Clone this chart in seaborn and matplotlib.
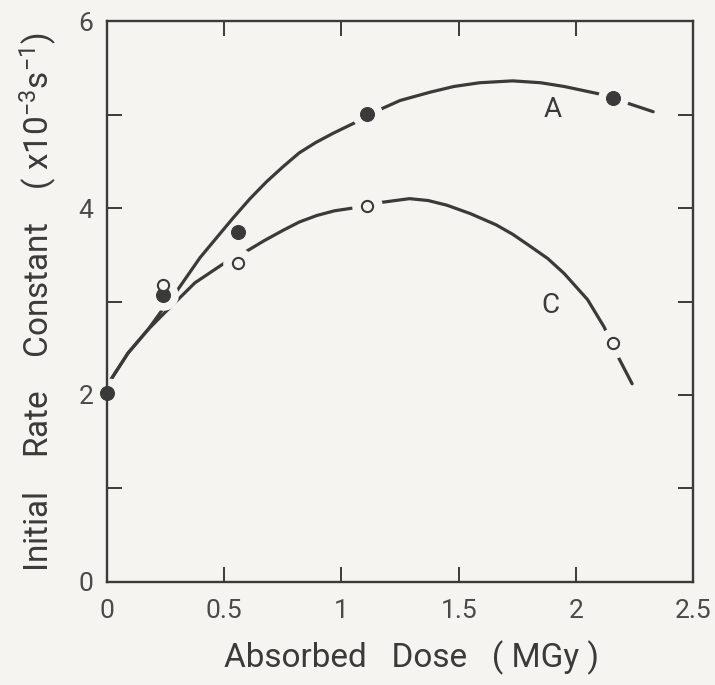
import matplotlib
matplotlib.use("Agg")
import matplotlib.pyplot as plt
import seaborn as sns
import pandas as pd

# Measured initial rate constants (x10^-3 s^-1) versus absorbed dose (MGy)
dose = [0.0, 0.24, 0.56, 1.11, 2.16]
rate_A = [2.02, 3.07, 3.74, 5.01, 5.18]          # filled circles
dose_C = [0.24, 0.56, 1.11, 2.16]
rate_C = [3.18, 3.41, 4.02, 2.56]                # open circles

# Hand-drawn trend curves through each series
curve_A_x = [0.01, 0.09, 0.175, 0.25, 0.30, 0.397, 0.47, 0.54, 0.61, 0.68, 0.75, 0.82,
             0.89, 0.965, 1.08, 1.17, 1.25, 1.38, 1.48, 1.59, 1.73, 1.85, 1.95, 2.10, 2.21, 2.33]
curve_A_y = [2.14, 2.45, 2.70, 2.96, 3.12, 3.47, 3.69, 3.90, 4.10, 4.28, 4.44, 4.59,
             4.70, 4.80, 4.94, 5.06, 5.15, 5.24, 5.30, 5.34, 5.36, 5.34, 5.30, 5.22, 5.13, 5.03]
curve_C_x = [0.01, 0.09, 0.175, 0.25, 0.375, 0.50, 0.59, 0.67, 0.75, 0.82, 0.895, 0.97, 1.05,
             1.17, 1.29, 1.37, 1.45, 1.55, 1.66, 1.73, 1.80, 1.88, 1.95, 2.05, 2.12, 2.18, 2.24]
curve_C_y = [2.14, 2.45, 2.70, 2.89, 3.20, 3.41, 3.53, 3.65, 3.76, 3.85, 3.92, 3.97, 4.00,
             4.06, 4.10, 4.08, 4.03, 3.94, 3.82, 3.72, 3.60, 3.46, 3.30, 3.02, 2.73, 2.41, 2.12]

# which symbols sit on their curve (the curve is broken around those)
gap_A = [True, True, False, True, True]
gap_C = [False, True, True, True]

x_ticks = [0, 0.5, 1, 1.5, 2, 2.5]
x_tick_labels = ["0", "0.5", "1", "1.5", "2", "2.5"]
y_ticks = [0, 1, 2, 3, 4, 5, 6]
y_tick_labels = ["0", "", "2", "", "4", "", "6"]

paper = "#f5f4f0"
ink = "#3a3a3a"

sns.set_theme(style="ticks")
plt.rcParams["font.family"] = ["Roboto", "DejaVu Sans"]
plt.rcParams["mathtext.default"] = "regular"

fig = plt.figure(figsize=(7.15, 6.85), dpi=100, facecolor=paper)
ax = fig.add_axes([0.1497, 0.1504, 0.8196, 0.8189], facecolor=paper)

ca = pd.DataFrame({"x": curve_A_x, "y": curve_A_y})
cc = pd.DataFrame({"x": curve_C_x, "y": curve_C_y})
sns.lineplot(data=ca, x="x", y="y", sort=False, color=ink, lw=2.3, ax=ax)
sns.lineplot(data=cc, x="x", y="y", sort=False, color=ink, lw=2.3, ax=ax)
for ln in ax.lines:
    ln.set_zorder(2)

pa = pd.DataFrame({"x": dose, "y": rate_A, "gap": gap_A})
pc = pd.DataFrame({"x": dose_C, "y": rate_C, "gap": gap_C})

# paper-coloured halos break the curves around the symbols they pass through
halo = pd.concat([pa[pa.gap], pc[pc.gap]])
ax.plot(halo.x, halo.y, linestyle="none", marker="o",
        ms=22, color=paper, mec="none", zorder=2.2, clip_on=False)

sns.scatterplot(data=pa, x="x", y="y", s=100, color=ink, edgecolor=ink,
                ax=ax, zorder=3, clip_on=False)
sns.scatterplot(data=pc, x="x", y="y", s=65, color=paper, edgecolor=ink,
                linewidth=1.5, ax=ax, zorder=3, clip_on=False)

ax.text(1.90, 5.05, "A", fontsize=20, color=ink, ha="center", va="center")
ax.text(1.89, 2.96, "C", fontsize=20, color=ink, ha="center", va="center")

ax.set_xlim(0, 2.5)
ax.set_ylim(0, 6)
ax.set_xticks(x_ticks)
ax.set_xticklabels(x_tick_labels)
ax.set_yticks(y_ticks)
ax.set_yticklabels(y_tick_labels)
ax.tick_params(direction="in", length=11, width=1.4, color=ink,
               top=True, right=True, labelsize=19, labelcolor="#4a4a4a")
ax.tick_params(axis="x", pad=12)
ax.tick_params(axis="y", pad=10)
for sp in ax.spines.values():
    sp.set_visible(True)
    sp.set_linewidth(1.7)
    sp.set_color(ink)
    sp.set_zorder(2.5)

ax.set_xlabel("Absorbed   Dose   ( MGy )", fontsize=24, color=ink, labelpad=14)
ax.xaxis.set_label_coords(0.52, -0.105)
ax.set_ylabel("Initial    Rate    Constant    ( x10$^{-3}$s$^{-1}$)",
              fontsize=24, color=ink, labelpad=14)

fig.savefig("out.png", dpi=100, facecolor=paper)
